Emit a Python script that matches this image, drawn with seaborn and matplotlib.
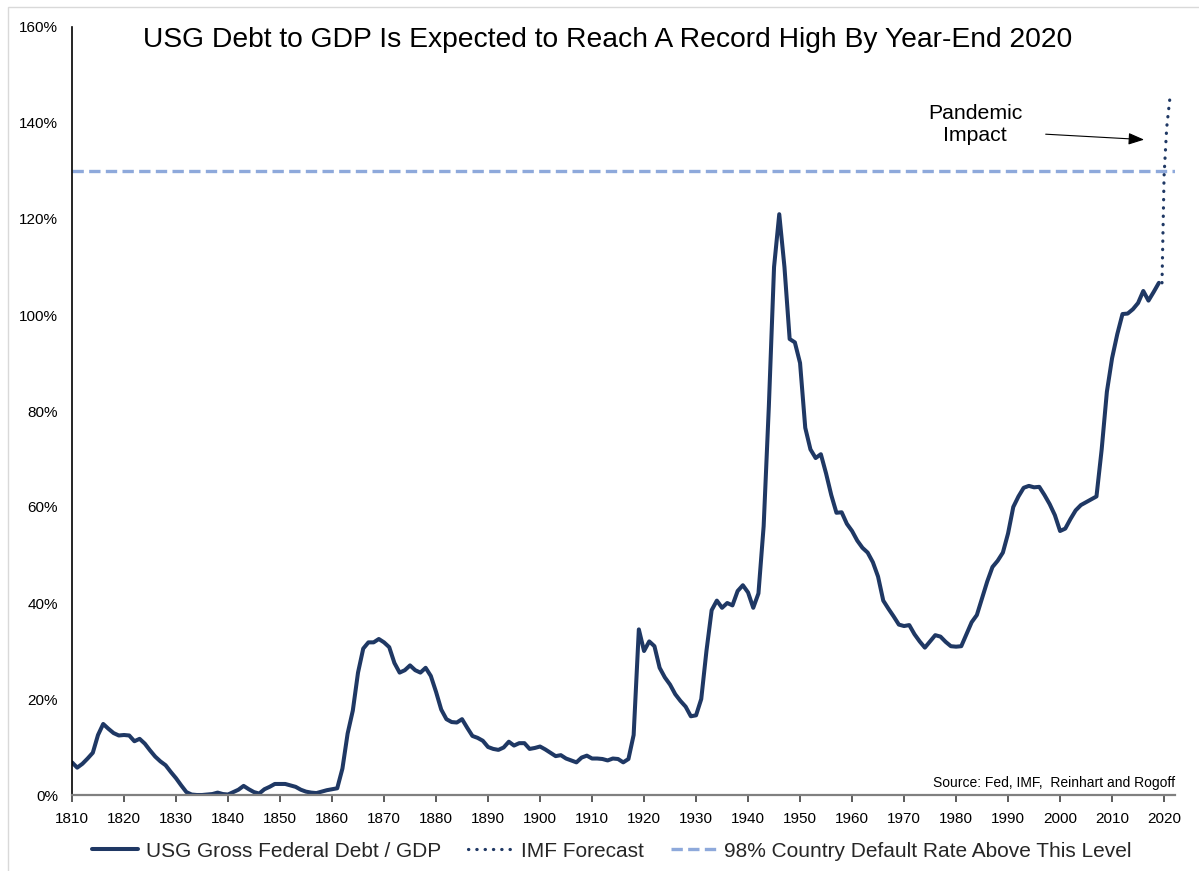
import numpy as np
import pandas as pd
import matplotlib
matplotlib.use("Agg")
import matplotlib.pyplot as plt
import seaborn as sns
from matplotlib.lines import Line2D
from matplotlib.patches import Rectangle

# ---------------- data ----------------
years = list(range(1810, 2020))
debt_pct = [
    6.8, 5.7, 6.5, 7.6, 8.8, 12.5, 14.8, 13.8, 12.9, 12.4,          # 1810s
    12.5, 12.4, 11.2, 11.7, 10.7, 9.3, 8.0, 7.0, 6.2, 4.8,          # 1820s
    3.5, 2.0, 0.6, 0.1, 0.0, 0.0, 0.1, 0.2, 0.5, 0.2,               # 1830s
    0.1, 0.6, 1.1, 1.9, 1.2, 0.6, 0.3, 1.2, 1.7, 2.3,               # 1840s
    2.3, 2.3, 2.0, 1.7, 1.1, 0.7, 0.5, 0.4, 0.7, 1.0,               # 1850s
    1.2, 1.4, 5.5, 12.8, 17.6, 25.5, 30.5, 31.8, 31.8, 32.5,        # 1860s
    31.8, 30.8, 27.5, 25.5, 26.0, 27.0, 26.0, 25.5, 26.5, 24.8,     # 1870s
    21.5, 17.8, 15.8, 15.2, 15.1, 15.8, 14.0, 12.3, 11.9, 11.3,     # 1880s
    10.0, 9.6, 9.4, 9.9, 11.1, 10.3, 10.8, 10.8, 9.6, 9.8,          # 1890s
    10.1, 9.5, 8.8, 8.1, 8.3, 7.6, 7.2, 6.8, 7.8, 8.2,              # 1900s
    7.6, 7.6, 7.5, 7.2, 7.6, 7.5, 6.8, 7.5, 12.5, 34.5,             # 1910s
    30.0, 32.0, 31.0, 26.5, 24.5, 23.0, 21.0, 19.6, 18.4, 16.4,     # 1920s
    16.6, 20.0, 30.0, 38.5, 40.5, 39.0, 40.0, 39.5, 42.5, 43.7,     # 1930s
    42.2, 39.0, 42.0, 56.0, 81.0, 110.0, 121.0, 110.0, 95.0, 94.3,  # 1940s
    90.0, 76.5, 72.0, 70.2, 71.0, 67.0, 62.5, 58.8, 58.9, 56.5,     # 1950s
    55.0, 53.0, 51.5, 50.5, 48.5, 45.5, 40.5, 38.8, 37.2, 35.5,     # 1960s
    35.2, 35.4, 33.5, 32.0, 30.7, 32.0, 33.3, 33.0, 31.9, 31.0,     # 1970s
    30.9, 31.0, 33.5, 36.0, 37.5, 41.0, 44.5, 47.5, 48.8, 50.5,     # 1980s
    54.5, 60.0, 62.2, 64.0, 64.4, 64.1, 64.2, 62.5, 60.6, 58.3,     # 1990s
    55.0, 55.5, 57.5, 59.3, 60.4, 61.0, 61.6, 62.2, 72.0, 84.0,     # 2000s
    91.0, 96.0, 100.2, 100.3, 101.2, 102.5, 105.0, 103.0, 104.8, 106.7,  # 2010s
]
forecast_years = [2019.6, 2020.0, 2020.5, 2021.1]
forecast_pct = [106.7, 129.0, 139.0, 145.0]
default_level = 130.0

title = "USG Debt to GDP Is Expected to Reach A Record High By Year-End 2020"
legend_labels = ["USG Gross Federal Debt / GDP", "IMF Forecast",
                 "98% Country Default Rate Above This Level"]
source_text = "Source: Fed, IMF,  Reinhart and Rogoff"
annotation_text = "Pandemic\nImpact"
x_ticks = list(range(1810, 2030, 10))
y_ticks = list(range(0, 180, 20))

# ---------------- style ----------------
sns.set_theme(style="white")
plt.rcParams["font.family"] = ["Liberation Sans", "DejaVu Sans"]

navy = "#1F3864"
light_blue = "#8EA9DB"
dotted = (0, (0.1, 2.5))
dashed = (0, (3.4, 1.6))

fig = plt.figure(figsize=(11.99, 8.71), dpi=100)
ax = fig.add_axes([72 / 1199, 1 - 795 / 871, (1175 - 72) / 1199, (795 - 27) / 871])

df = pd.DataFrame({"year": years, "pct": debt_pct})
fc = pd.DataFrame({"year": forecast_years, "pct": forecast_pct})

sns.lineplot(data=df, x="year", y="pct", ax=ax, color=navy, linewidth=2.9,
             solid_joinstyle="round", solid_capstyle="round")
sns.lineplot(data=fc, x="year", y="pct", ax=ax, color=navy, linewidth=2.3,
             linestyle=dotted, dash_capstyle="round")
ax.axhline(default_level, color=light_blue, linewidth=2.4, linestyle=dashed)

ax.set_xlim(1810, 2022.1)
ax.set_ylim(0, 160)
ax.set_xticks(x_ticks)
ax.set_xticklabels([str(t) for t in x_ticks], fontsize=11)
ax.set_yticks(y_ticks)
ax.set_yticklabels([f"{t}%" for t in y_ticks], fontsize=11)
ax.set_xlabel("")
ax.set_ylabel("")

for side in ["top", "right"]:
    ax.spines[side].set_visible(False)
ax.spines["left"].set_color("black")
ax.spines["left"].set_linewidth(1.2)
ax.spines["bottom"].set_color("#808080")
ax.spines["bottom"].set_linewidth(1.6)
ax.tick_params(axis="x", which="major", direction="out", length=5, width=1.2,
               color="#404040", bottom=True, pad=7, labelcolor="black")
ax.tick_params(axis="y", which="major", length=0, pad=10, labelcolor="black")
ax.grid(False)

fig.text(608 / 1199, 1 - 40 / 871, title, ha="center", va="center", fontsize=20.3,
         color="black")

ax.text(1.0, 0.0065, source_text, transform=ax.transAxes, ha="right", va="bottom",
        fontsize=10, color="black")

ax.annotate("", xy=(2016.7, 136.5), xytext=(1996.7, 137.7),
            arrowprops=dict(arrowstyle="-|>,head_length=0.8,head_width=0.3",
                            color="black", lw=0.8))
ax.text(1983.7, 139.7, annotation_text, ha="center", va="center", fontsize=15.3,
        color="black", linespacing=1.15)

handles = [
    Line2D([], [], color=navy, linewidth=2.9),
    Line2D([], [], color=navy, linewidth=2.3, linestyle=dotted, dash_capstyle="round"),
    Line2D([], [], color=light_blue, linewidth=2.4, linestyle=dashed),
]
fig.legend(handles, legend_labels, loc="center", bbox_to_anchor=(612 / 1199, 1 - 851 / 871),
           ncol=3, frameon=False, fontsize=15, handlelength=2.2, handletextpad=0.35,
           columnspacing=1.3)

fig.patches.append(Rectangle((8 / 1199, -0.01), 1.2, 1 - 7 / 871 + 0.01,
                             transform=fig.transFigure, fill=False,
                             edgecolor="#D9D9D9", linewidth=1.0))

fig.savefig("out.png", dpi=100)
